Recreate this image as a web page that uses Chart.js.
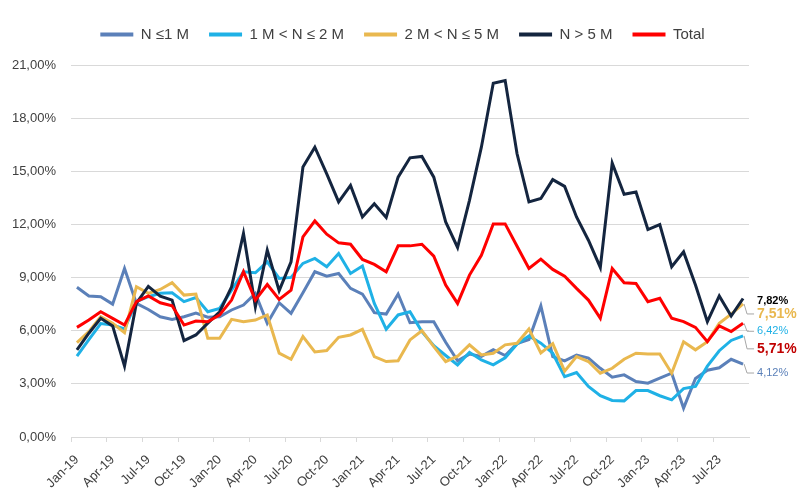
<!DOCTYPE html>
<html>
<head>
<meta charset="utf-8">
<script src="https://cdn.jsdelivr.net/npm/chart.js@4/dist/chart.umd.min.js"></script>
<style>
html,body{margin:0;padding:0;background:#fff;}
#wrap{width:800px;height:500px;position:relative;}
</style>
</head>
<body>
<div id="wrap"><canvas id="c" width="800" height="500"></canvas></div>
<script>
const categories = ['Jan-19','Feb-19','Mar-19','Apr-19','May-19','Jun-19','Jul-19','Aug-19','Sep-19','Oct-19','Nov-19','Dec-19',
'Jan-20','Feb-20','Mar-20','Apr-20','May-20','Jun-20','Jul-20','Aug-20','Sep-20','Oct-20','Nov-20','Dec-20',
'Jan-21','Feb-21','Mar-21','Apr-21','May-21','Jun-21','Jul-21','Aug-21','Sep-21','Oct-21','Nov-21','Dec-21',
'Jan-22','Feb-22','Mar-22','Apr-22','May-22','Jun-22','Jul-22','Aug-22','Sep-22','Oct-22','Nov-22','Dec-22',
'Jan-23','Feb-23','Mar-23','Apr-23','May-23','Jun-23','Jul-23','Aug-23','Sep-23'];

const seriesNames = ['N \u22641 M', '1 M < N \u2264 2 M', '2 M < N \u2264 5 M', 'N > 5 M', 'Total'];

const upTo1M = [8.45,7.96,7.92,7.5,9.51,7.54,7.2,6.79,6.64,6.79,7.0,6.76,
6.79,7.17,7.45,8.11,6.42,7.58,6.98,8.14,9.33,9.08,9.23,8.39,
8.07,7.02,6.94,8.07,6.45,6.51,6.51,5.35,4.3,4.68,4.55,4.93,
4.6,5.27,5.5,7.4,4.54,4.3,4.63,4.45,3.88,3.38,3.51,3.13,
3.04,3.32,3.6,1.63,3.3,3.77,3.91,4.39,4.12];

const from1to2M = [4.56,5.5,6.4,6.32,6.1,7.64,7.92,8.11,8.14,7.64,7.87,7.07,
7.26,8.29,9.33,9.27,9.89,8.95,9.01,9.8,10.08,9.61,10.36,9.23,
9.65,7.54,6.08,6.89,7.07,5.95,5.15,4.6,4.07,4.78,4.35,4.07,
4.47,5.25,5.7,5.3,4.73,3.41,3.64,2.85,2.33,2.06,2.04,2.62,
2.62,2.33,2.1,2.73,2.85,4.0,4.87,5.45,5.71];

const from2to5M = [5.33,5.95,6.79,6.42,5.89,8.48,8.11,8.33,8.71,8.01,8.07,5.57,
5.57,6.64,6.51,6.6,6.89,4.73,4.39,5.67,4.8,4.88,5.63,5.76,
6.08,4.54,4.26,4.3,5.48,6.0,5.1,4.26,4.56,5.2,4.63,4.73,
5.2,5.29,6.1,4.75,5.27,3.72,4.54,4.26,3.6,3.88,4.39,4.73,
4.69,4.69,3.6,5.38,4.92,5.38,6.42,6.94,7.51];

const over5M = [4.92,5.86,6.7,6.27,4.0,7.56,8.5,7.95,7.73,5.44,5.76,6.43,
7.07,8.48,11.49,7.35,10.55,8.26,9.89,15.24,16.36,14.86,13.27,14.2,
12.42,13.17,12.39,14.67,15.76,15.84,14.67,12.14,10.7,13.36,16.36,19.97,
20.12,15.99,13.27,13.46,14.53,14.15,12.42,11.11,9.57,15.46,13.7,13.83,
11.71,11.99,9.61,10.45,8.58,6.51,7.96,6.83,7.82];

const total = [6.19,6.6,7.07,6.7,6.32,7.64,7.96,7.58,7.41,6.32,6.55,6.51,
6.89,7.73,9.33,7.73,8.61,7.77,8.29,11.3,12.2,11.45,10.96,10.88,
10.02,9.74,9.33,10.79,10.79,10.88,10.21,8.58,7.54,9.14,10.26,12.03,
12.03,10.77,9.51,10.04,9.46,9.08,8.39,7.73,6.7,9.51,8.71,8.67,
7.64,7.83,6.7,6.51,6.19,5.38,6.27,5.95,6.42];

const yTicks = [0,3,6,9,12,15,18,21];

// end-of-series value labels (as printed in the reference)
const endLabelText = ['7,82%','7,51%','6,42%','5,71%','4,12%'];
const endLabelSeries = [3,2,4,1,0];

const colors = ['#5B80B9','#1FB1E6','#E9B84F','#14253F','#FF0000'];
const endLabelColors = ['#000000','#E9B84F','#1FB1E6','#C00000','#5B80B9'];
const endLabelFonts = ['bold 11px "Liberation Sans"','bold 14px "Liberation Sans"','11px "Liberation Sans"','bold 14px "Liberation Sans"','11px "Liberation Sans"'];
const endLabelDy = [2,10,8,13,9];

const seriesData = [upTo1M, from1to2M, from2to5M, over5M, total];
const drawOrder = [5,4,3,2,1];

const legendGap = {
  id: 'legendGap',
  beforeLayout(chart) {
    const lg = chart.legend;
    if (lg && !lg._gapPatched) {
      const f = lg.fit;
      lg.fit = function () {
        f.apply(this, arguments);
        this.height += 13;
        if (this.minSize) this.minSize.height = this.height;
      };
      lg._gapPatched = true;
    }
  },
  afterLayout(chart) {
    const lg = chart.legend;
    if (lg) { lg.left += 28; lg.right += 28; }
  }
};

const endLabels = {
  id: 'endLabels',
  afterDatasetsDraw(chart) {
    const ctx = chart.ctx;
    ctx.save();
    endLabelText.forEach((txt, k) => {
      const di = endLabelSeries[k];
      const meta = chart.getDatasetMeta(di);
      const pt = meta.data[meta.data.length - 1];
      const px = pt.x, py = pt.y;
      const ly = py + endLabelDy[k];
      if (k > 0) {
        ctx.strokeStyle = '#A6A6A6';
        ctx.lineWidth = 1;
        ctx.beginPath();
        ctx.moveTo(px + 1, py);
        ctx.lineTo(px + 4, ly);
        ctx.lineTo(px + 11, ly);
        ctx.stroke();
      }
      ctx.font = endLabelFonts[k];
      ctx.fillStyle = endLabelColors[k];
      ctx.textAlign = 'left';
      ctx.textBaseline = 'middle';
      ctx.fillText(txt, px + 14, ly);
    });
    ctx.restore();
  }
};

new Chart(document.getElementById('c'), {
  type: 'line',
  data: {
    labels: categories,
    datasets: seriesData.map((d, i) => ({
      label: seriesNames[i],
      data: d,
      borderColor: colors[i],
      backgroundColor: colors[i],
      borderWidth: 3,
      pointRadius: 0,
      tension: 0,
      fill: false,
      order: drawOrder[i]
    }))
  },
  options: {
    responsive: false,
    animation: false,
    layout: { padding: { left: 0, right: 51, top: 7, bottom: 0 } },
    plugins: {
      tooltip: { enabled: false },
      legend: {
        position: 'top',
        labels: {
          font: { family: 'Liberation Sans', size: 15 },
          color: '#404040',
          boxWidth: 33,
          boxHeight: 4,
          padding: 20,
          useBorderRadius: true,
          borderRadius: 2,
          sort: (a, b) => a.datasetIndex - b.datasetIndex,
          generateLabels(chart) {
            return chart.data.datasets.map((ds, i) => ({
              text: ds.label,
              fillStyle: ds.borderColor,
              strokeStyle: ds.borderColor,
              lineWidth: 0,
              hidden: false,
              datasetIndex: i,
              fontColor: '#404040'
            }));
          }
        }
      }
    },
    scales: {
      x: {
        offset: true,
        grid: {
          offset: true,
          drawOnChartArea: false,
          drawTicks: true,
          tickLength: 5,
          color: (c) => (c.index % 3 === 0 ? '#D9D9D9' : 'rgba(0,0,0,0)')
        },
        border: { color: '#D9D9D9', width: 1 },
        ticks: {
          autoSkip: false,
          maxRotation: 45,
          minRotation: 45,
          padding: 10,
          font: { family: 'Liberation Sans', size: 13 },
          color: '#404040',
          callback: function (v, i) { return i % 3 === 0 ? categories[i] : ''; }
        },
        afterFit(scale) { scale.height = 63; }
      },
      y: {
        min: 0,
        max: 21,
        afterBuildTicks(scale) { scale.ticks = yTicks.map(v => ({ value: v })); },
        grid: { color: '#D9D9D9', lineWidth: 1, drawTicks: false },
        border: { display: false },
        ticks: {
          padding: 15,
          font: { family: 'Liberation Sans', size: 13 },
          color: '#404040',
          callback: (v) => v.toFixed(2).replace('.', ',') + '%'
        },
        afterFit(scale) { scale.width = 71; }
      }
    }
  },
  plugins: [legendGap, endLabels]
});
</script>
</body>
</html>
